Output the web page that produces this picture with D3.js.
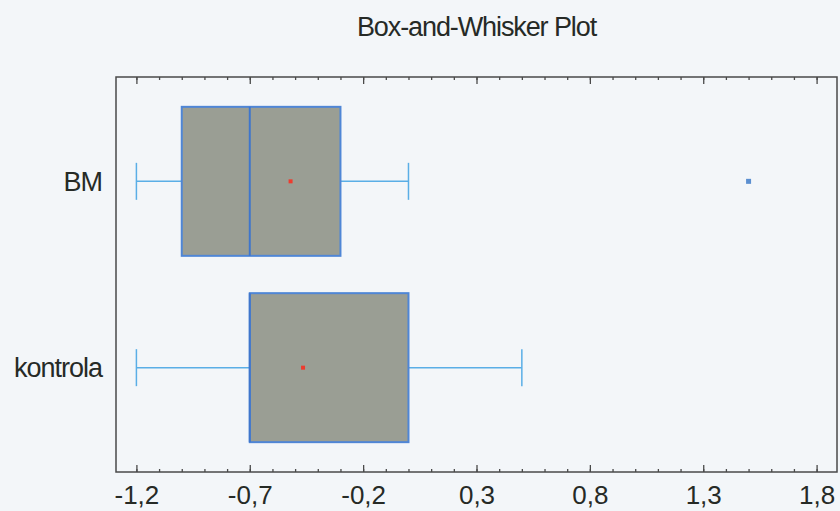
<!DOCTYPE html>
<html lang="en">

<head>
    <meta charset="UTF-8">
    <title>Box-and-Whisker Plot</title>
    <style>
        body { margin: 0; background: #f3f6f9; }
        text { font-family: "Liberation Sans", Arial, sans-serif; fill: #262a26; }
    </style>
</head>

<body>
    <script type='text/javascript' src='https://d3js.org/d3.v7.min.js'></script>

    <script>
        // groups and their five-number summaries
        const categories = ['BM', 'kontrola'];
        const whiskerLow = [-1.2, -1.2];
        const q1 = [-1.0, -0.7];
        const medians = [-0.7, -0.7];
        const q3 = [-0.3, 0.0];
        const whiskerHigh = [0.0, 0.5];
        const means = [-0.52, -0.465];
        // [ group, value ]
        const outliers = [['BM', 1.5]];

        const majorTicks = [-1.2, -0.7, -0.2, 0.3, 0.8, 1.3, 1.8];
        const tickLabels = ['-1,2', '-0,7', '-0,2', '0,3', '0,8', '1,3', '1,8'];
        const minorTicks = [-1.2, -1.1, -1.0, -0.9, -0.8, -0.7, -0.6, -0.5, -0.4, -0.3, -0.2, -0.1, 0.0,
            0.1, 0.2, 0.3, 0.4, 0.5, 0.6, 0.7, 0.8, 0.9, 1.0, 1.1, 1.2, 1.3, 1.4, 1.5, 1.6, 1.7, 1.8];

        const boxes = categories.map((c, i) => {
            return { cat: c, lo: whiskerLow[i], q1: q1[i], med: medians[i], q3: q3[i], hi: whiskerHigh[i], mean: means[i] };
        });

        const W = 840, H = 511;
        const plotL = 116, plotR = 837, plotT = 77, plotB = 472;

        let svg = d3.select('body').append('svg').attr('width', W).attr('height', H);

        var x = d3.scaleLinear().domain([-1.29, 1.89]).range([plotL, plotR]);
        var y = d3.scalePoint().domain(categories).range([plotT, plotB]).padding(0.56);

        const boxH = 149, capH = 37;

        // title
        svg.append('text')
            .attr('x', (plotL + plotR) / 2)
            .attr('y', 36)
            .attr('text-anchor', 'middle')
            .style('font-size', '27px')
            .style('letter-spacing', '-1.1px')
            .text('Box-and-Whisker Plot');

        // frame
        svg.append('rect')
            .attr('x', plotL).attr('y', plotT)
            .attr('width', plotR - plotL).attr('height', plotB - plotT)
            .style('fill', 'none')
            .style('stroke', '#4a4a4a')
            .style('stroke-width', 1.5);

        // inward ticks, bottom and top
        svg.append('g').attr('transform', `translate(0,${plotB})`)
            .call(d3.axisBottom(x).tickValues(minorTicks).tickSize(-3).tickFormat(''))
            .call(g => g.select('.domain').remove());
        svg.append('g').attr('transform', `translate(0,${plotB})`)
            .call(d3.axisBottom(x).tickValues(majorTicks).tickSize(-7).tickPadding(14)
                .tickFormat((d, i) => tickLabels[i]))
            .call(g => g.select('.domain').remove())
            .call(g => g.attr('font-size', null).attr('font-family', null))
            .call(g => g.selectAll('text').style('font-size', '26px').style('fill', '#262a26'));
        svg.append('g').attr('transform', `translate(0,${plotT})`)
            .call(d3.axisTop(x).tickValues(minorTicks).tickSize(-3).tickFormat(''))
            .call(g => g.select('.domain').remove());
        svg.append('g').attr('transform', `translate(0,${plotT})`)
            .call(d3.axisTop(x).tickValues(majorTicks).tickSize(-7).tickFormat(''))
            .call(g => g.select('.domain').remove());
        svg.selectAll('.tick line').style('stroke', '#4a4a4a').style('stroke-width', 1.3);

        // category labels
        svg.selectAll('.cat')
            .data(categories)
            .enter().append('text')
            .attr('class', 'cat')
            .attr('x', plotL - 14)
            .attr('y', d => y(d))
            .attr('dy', '0.35em')
            .attr('text-anchor', 'end')
            .style('font-size', '27px')
            .style('letter-spacing', '-1px')
            .text(d => d);

        // whiskers
        const wcol = '#5aaee6';
        let g = svg.selectAll('.box').data(boxes).enter().append('g').attr('class', 'box');
        g.append('line')
            .attr('x1', d => x(d.lo)).attr('x2', d => x(d.hi))
            .attr('y1', d => y(d.cat)).attr('y2', d => y(d.cat))
            .style('stroke', wcol).style('stroke-width', 1.5);
        g.append('line')
            .attr('x1', d => x(d.lo)).attr('x2', d => x(d.lo))
            .attr('y1', d => y(d.cat) - capH / 2).attr('y2', d => y(d.cat) + capH / 2)
            .style('stroke', wcol).style('stroke-width', 1.5);
        g.append('line')
            .attr('x1', d => x(d.hi)).attr('x2', d => x(d.hi))
            .attr('y1', d => y(d.cat) - capH / 2).attr('y2', d => y(d.cat) + capH / 2)
            .style('stroke', wcol).style('stroke-width', 1.5);

        // boxes
        g.append('rect')
            .attr('x', d => x(d.q1))
            .attr('y', d => y(d.cat) - boxH / 2)
            .attr('width', d => x(d.q3) - x(d.q1))
            .attr('height', boxH)
            .style('fill', '#9a9e94')
            .style('stroke', '#4f86d6')
            .style('stroke-width', 2);
        g.append('line')
            .attr('x1', d => x(d.med)).attr('x2', d => x(d.med))
            .attr('y1', d => y(d.cat) - boxH / 2).attr('y2', d => y(d.cat) + boxH / 2)
            .style('stroke', '#3f76cc').style('stroke-width', 2);

        // means
        g.append('rect')
            .attr('x', d => x(d.mean) - 2).attr('y', d => y(d.cat) - 2)
            .attr('width', 4).attr('height', 4)
            .style('fill', '#ee3b2e');

        // outliers
        svg.selectAll('.outlier')
            .data(outliers)
            .enter().append('rect')
            .attr('class', 'outlier')
            .attr('x', d => x(d[1]) - 2.5).attr('y', d => y(d[0]) - 2.5)
            .attr('width', 5).attr('height', 5)
            .style('fill', '#5b8fd0');
    </script>
</body>

</html>
